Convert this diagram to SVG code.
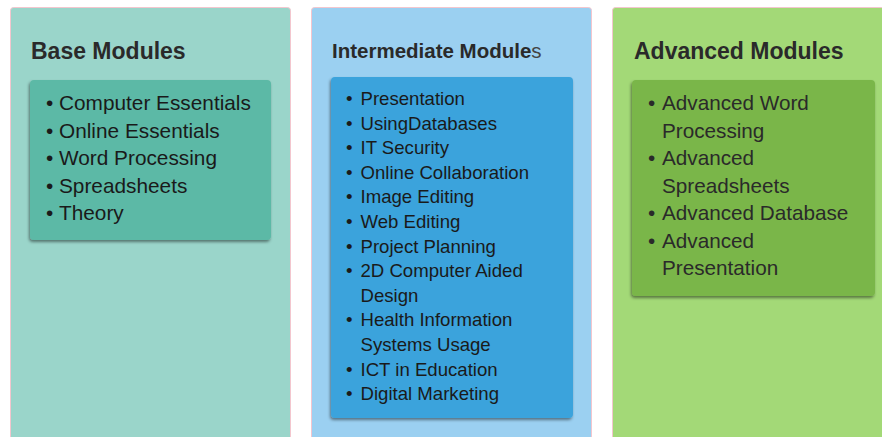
<svg xmlns="http://www.w3.org/2000/svg" width="882" height="437" viewBox="0 0 882 437">
  <defs>
    <filter id="shadow" x="-10%" y="-10%" width="120%" height="120%">
      <feDropShadow dx="-1" dy="2" stdDeviation="1.6" flood-color="#000" flood-opacity="0.45"/>
    </filter>
    <style>
      .panel { stroke: #f3c6ce; stroke-width: 1; }
      .box { filter: url(#shadow); }
      .title { font-family: "Liberation Sans", Arial, sans-serif; font-weight: bold; fill: #2a2a2a; }
      .item { font-family: "Liberation Sans", Arial, sans-serif; fill: #1a1a1a; }
      .base .item { font-size: 20.8px; }
      .mid .item { font-size: 18.6px; }
      .adv .item { font-size: 20.7px; fill: #2a2a2a; }
    </style>
  </defs>
  <rect width="882" height="437" fill="#ffffff"/>

  <!-- Base column -->
  <g id="base" class="base">
    <rect class="panel" x="10.5" y="7.5" width="280" height="440" rx="3" fill="#9ad5ca"/>
    <text class="title" x="31" y="59" font-size="23">Base Modules</text>
    <rect class="box" x="30" y="80" width="241" height="160" rx="4" fill="#5cb9a6"/>
    <g class="item">
      <text x="46" y="110">•</text><text x="59" y="110">Computer Essentials</text>
      <text x="46" y="137.5">•</text><text x="59" y="137.5">Online Essentials</text>
      <text x="46" y="165">•</text><text x="59" y="165">Word Processing</text>
      <text x="46" y="192.5">•</text><text x="59" y="192.5">Spreadsheets</text>
      <text x="46" y="220">•</text><text x="59" y="220">Theory</text>
    </g>
  </g>

  <!-- Intermediate column -->
  <g id="intermediate" class="mid">
    <rect class="panel" x="311.5" y="7.5" width="280" height="440" rx="3" fill="#9bd0f1"/>
    <text class="title" x="332" y="57.5" font-size="20.5">Intermediate Module<tspan font-weight="normal" fill="#444">s</tspan></text>
    <rect class="box" x="331" y="77" width="242" height="341" rx="4" fill="#3ba3dc"/>
    <g class="item">
      <text x="346" y="105">•</text><text x="360.5" y="105">Presentation</text>
      <text x="346" y="129.6">•</text><text x="360.5" y="129.6">UsingDatabases</text>
      <text x="346" y="154.2">•</text><text x="360.5" y="154.2">IT Security</text>
      <text x="346" y="178.8">•</text><text x="360.5" y="178.8">Online Collaboration</text>
      <text x="346" y="203.4">•</text><text x="360.5" y="203.4">Image Editing</text>
      <text x="346" y="228">•</text><text x="360.5" y="228">Web Editing</text>
      <text x="346" y="252.6">•</text><text x="360.5" y="252.6">Project Planning</text>
      <text x="346" y="277.2">•</text><text x="360.5" y="277.2">2D Computer Aided</text>
      <text x="360.5" y="301.8">Design</text>
      <text x="346" y="326.4">•</text><text x="360.5" y="326.4">Health Information</text>
      <text x="360.5" y="351">Systems Usage</text>
      <text x="346" y="375.6">•</text><text x="360.5" y="375.6">ICT in Education</text>
      <text x="346" y="400.2">•</text><text x="360.5" y="400.2">Digital Marketing</text>
    </g>
  </g>

  <!-- Advanced column -->
  <g id="advanced" class="adv">
    <rect class="panel" x="612.5" y="7.5" width="290" height="440" rx="3" fill="#a3d977"/>
    <text class="title" x="634" y="59" font-size="23">Advanced Modules</text>
    <rect class="box" x="632" y="80" width="243" height="216" rx="4" fill="#7ab648"/>
    <g class="item">
      <text x="648" y="110">•</text><text x="662" y="110">Advanced Word</text>
      <text x="662" y="137.5">Processing</text>
      <text x="648" y="165">•</text><text x="662" y="165">Advanced</text>
      <text x="662" y="192.5">Spreadsheets</text>
      <text x="648" y="220">•</text><text x="662" y="220">Advanced Database</text>
      <text x="648" y="247.5">•</text><text x="662" y="247.5">Advanced</text>
      <text x="662" y="275">Presentation</text>
    </g>
  </g>

  <g id="connectors"/>
</svg>
